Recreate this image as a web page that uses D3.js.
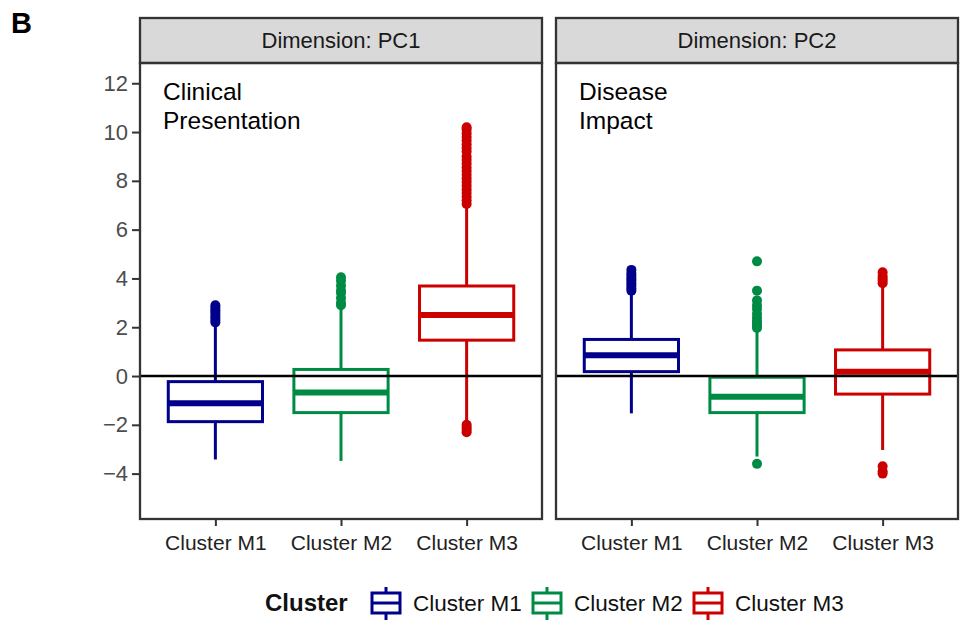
<!DOCTYPE html>
<html>
  <head>
    <script src="https://cdn.jsdelivr.net/npm/d3@7"></script>
    <style>
      body { margin: 0; background: #fff; }
      text { font-family: "Liberation Sans", Arial, sans-serif; }
    </style>
  </head>
  <body>
    <script>

    // Categories and panels
    var clusters = ["Cluster M1", "Cluster M2", "Cluster M3"];
    var dims = ["PC1", "PC2"];
    var dimTitles = [["Clinical", "Presentation"], ["Disease", "Impact"]];
    var colors = ["#00008B", "#008B45", "#CD0000"];
    var yTicks = [-4, -2, 0, 2, 4, 6, 8, 10, 12];

    // Box statistics, PC1
    var pc1Lower  = [-3.42, -3.48, -1.86];
    var pc1Q1     = [-1.87, -1.50,  1.47];
    var pc1Median = [-1.12, -0.68,  2.50];
    var pc1Q3     = [-0.23,  0.27,  3.69];
    var pc1Upper  = [ 2.10,  2.85,  7.00];
    var pc1OutM1 = [2.2, 2.3, 2.4, 2.5, 2.6, 2.7, 2.8, 2.9];
    var pc1OutM2 = [2.9, 3.0, 3.2, 3.4, 3.5, 3.7, 3.9, 4.05];
    var pc1OutM3 = [-2.0, -2.1, -2.2, -2.3, 7.05, 7.2, 7.35, 7.5, 7.65, 7.8, 7.95, 8.1,
                    8.25, 8.4, 8.55, 8.7, 8.85, 9.0, 9.2, 9.35, 9.5, 9.65, 9.8, 9.95, 10.1, 10.2];

    // PC2
    var pc2Lower  = [-1.53, -3.30, -3.03];
    var pc2Q1     = [ 0.18, -1.50, -0.74];
    var pc2Median = [ 0.85, -0.85,  0.18];
    var pc2Q3     = [ 1.50, -0.05,  1.07];
    var pc2Upper  = [ 3.45,  1.85,  3.70];
    var pc2OutM1 = [3.5, 3.6, 3.7, 3.8, 3.9, 4.0, 4.1, 4.2, 4.35];
    var pc2OutM2 = [-3.6, 1.97, 2.05, 2.15, 2.25, 2.4, 2.55, 2.75, 2.9, 3.1, 3.5, 4.7];
    var pc2OutM3 = [-4.0, -3.9, -3.7, 3.8, 3.9, 4.0, 4.1, 4.25];

    // Build table for the boxes
    function makeBoxes(lo, q1, med, q3, hi, outs) {
      return clusters.map(function(c, i) {
        return {cluster: c, i: i, lo: lo[i], q1: q1[i], med: med[i], q3: q3[i], hi: hi[i], outs: outs[i]};
      });
    }
    var panels = [
      makeBoxes(pc1Lower, pc1Q1, pc1Median, pc1Q3, pc1Upper, [pc1OutM1, pc1OutM2, pc1OutM3]),
      makeBoxes(pc2Lower, pc2Q1, pc2Median, pc2Q3, pc2Upper, [pc2OutM1, pc2OutM2, pc2OutM3])
    ];

    var svg = d3.select("body").append("svg")
      .attr("width", 965)
      .attr("height", 626);

    // Layout
    var panelX = [140, 556];
    var panelW = 402;
    var stripTop = 18, panelTop = 63, panelBottom = 519;

    var y = d3.scaleLinear()
      .domain([-5.86, 12.83])
      .range([panelBottom, panelTop]);

    var x = d3.scalePoint()
      .domain(clusters)
      .range([0, panelW])
      .padding(0.6);
    var boxW = x.step() * 0.75;

    svg.append("text")
      .attr("x", 11).attr("y", 33)
      .attr("font-size", 29).attr("font-weight", "bold")
      .text("B");

    dims.forEach(function(dim, p) {
      var g = svg.append("g").attr("transform", "translate(" + panelX[p] + ",0)");

      // strip
      g.append("rect")
        .attr("x", 0).attr("y", stripTop)
        .attr("width", panelW).attr("height", panelTop - stripTop)
        .attr("fill", "#d9d9d9").attr("stroke", "#333").attr("stroke-width", 2.3);
      g.append("text")
        .attr("x", panelW / 2).attr("y", (stripTop + panelTop) / 2 + 7.5)
        .attr("text-anchor", "middle").attr("font-size", 22).attr("fill", "#1a1a1a")
        .text("Dimension: " + dim);

      // annotation
      g.append("text")
        .attr("x", 23).attr("y", 100)
        .attr("font-size", 24.5).attr("fill", "#000")
        .selectAll("tspan").data(dimTitles[p]).enter().append("tspan")
          .attr("x", 23).attr("dy", function(d, i) { return i ? 29 : 0; })
          .text(function(d) { return d; });

      var boxes = g.selectAll(".box").data(panels[p]).enter().append("g")
        .attr("transform", function(d) { return "translate(" + x(d.cluster) + ",0)"; });

      boxes.append("line")
        .attr("y1", function(d) { return y(d.lo); })
        .attr("y2", function(d) { return y(d.hi); })
        .attr("stroke", function(d) { return colors[d.i]; })
        .attr("stroke-width", 3);
      boxes.append("rect")
        .attr("x", -boxW / 2).attr("width", boxW)
        .attr("y", function(d) { return y(d.q3); })
        .attr("height", function(d) { return y(d.q1) - y(d.q3); })
        .attr("fill", "#fff")
        .attr("stroke", function(d) { return colors[d.i]; })
        .attr("stroke-width", 3);
      boxes.append("line")
        .attr("x1", -boxW / 2).attr("x2", boxW / 2)
        .attr("y1", function(d) { return y(d.med); })
        .attr("y2", function(d) { return y(d.med); })
        .attr("stroke", function(d) { return colors[d.i]; })
        .attr("stroke-width", 6);
      boxes.each(function(d) {
        d3.select(this).selectAll("circle").data(d.outs).enter().append("circle")
          .attr("cx", 0).attr("cy", function(v) { return y(v); })
          .attr("r", 5).attr("fill", colors[d.i]);
      });

      // zero line
      g.append("line")
        .attr("x1", 0).attr("x2", panelW)
        .attr("y1", y(0)).attr("y2", y(0))
        .attr("stroke", "#000").attr("stroke-width", 2.4);

      // panel border
      g.append("rect")
        .attr("x", 0).attr("y", panelTop)
        .attr("width", panelW).attr("height", panelBottom - panelTop)
        .attr("fill", "none").attr("stroke", "#333").attr("stroke-width", 2.3);

      // x axis
      var xa = g.append("g")
        .attr("transform", "translate(0," + (panelBottom + 1) + ")")
        .call(d3.axisBottom(x).tickSize(6).tickPadding(9));
      xa.select(".domain").remove();
      xa.selectAll(".tick line").attr("stroke", "#333").attr("stroke-width", 2);
      xa.selectAll(".tick text").attr("font-size", 21).attr("fill", "#222")
        .attr("font-family", "Liberation Sans, Arial, sans-serif");

      // y axis only on first panel
      if (p === 0) {
        var ya = g.append("g")
          .attr("transform", "translate(-1,0)")
          .call(d3.axisLeft(y).tickValues(yTicks).tickSize(7).tickPadding(4)
            .tickFormat(function(d) { return d < 0 ? "\u2212" + Math.abs(d) : d; }));
        ya.select(".domain").remove();
        ya.selectAll(".tick line").attr("stroke", "#333").attr("stroke-width", 2);
        ya.selectAll(".tick text").attr("font-size", 22).attr("fill", "#4d4d4d")
          .attr("font-family", "Liberation Sans, Arial, sans-serif");
      }
    });

    // Legend
    var legend = svg.append("g");
    legend.append("text")
      .attr("x", 265).attr("y", 611)
      .attr("font-size", 24).attr("font-weight", "bold").attr("fill", "#111")
      .text("Cluster");
    var keyX = [370, 531, 692];
    var keys = legend.selectAll(".key").data(clusters).enter().append("g")
      .attr("transform", function(d, i) { return "translate(" + keyX[i] + ",0)"; });
    keys.append("line")
      .attr("x1", 16).attr("x2", 16).attr("y1", 587).attr("y2", 620)
      .attr("stroke", function(d, i) { return colors[i]; }).attr("stroke-width", 3);
    keys.append("rect")
      .attr("x", 2).attr("y", 593).attr("width", 28).attr("height", 20)
      .attr("fill", "#fff")
      .attr("stroke", function(d, i) { return colors[i]; }).attr("stroke-width", 3);
    keys.append("line")
      .attr("x1", 2).attr("x2", 30).attr("y1", 603).attr("y2", 603)
      .attr("stroke", function(d, i) { return colors[i]; }).attr("stroke-width", 3);
    keys.append("text")
      .attr("x", 43).attr("y", 611)
      .attr("font-size", 22.5).attr("fill", "#111")
      .text(function(d) { return d; });

    </script>
  </body>
</html>
